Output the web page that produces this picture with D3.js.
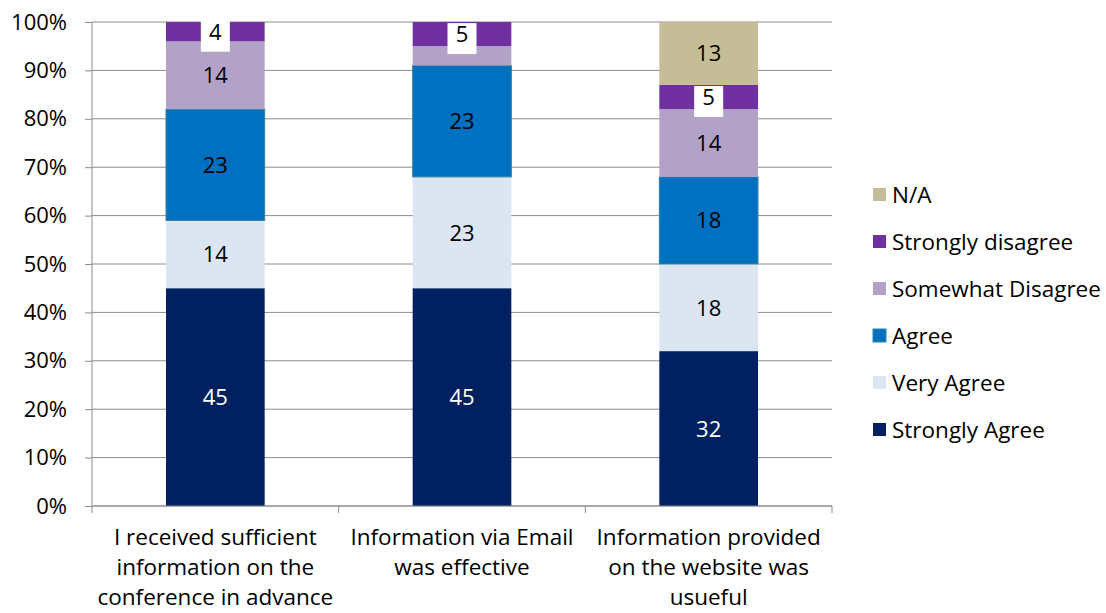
<!DOCTYPE html>
<html>
<head>
<meta charset="utf-8">
<script src="https://cdn.jsdelivr.net/npm/d3@7"></script>
<style>
  body { margin: 0; background: #fff; }
  svg text { font-family: "Open Sans", "Liberation Sans", Arial, sans-serif; }
</style>
</head>
<body>
<svg id="chart" width="1106" height="613"></svg>
<script>
// chart data
var categories = [
  ["I received sufficient", "information on the", "conference in advance"],
  ["Information via Email", "was effective"],
  ["Information provided", "on the website was", "usueful"]
];
var seriesNames = ["Strongly Agree", "Very Agree", "Agree", "Somewhat Disagree", "Strongly disagree", "N/A"];
var stronglyAgree = [45, 45, 32];
var veryAgree = [14, 23, 18];
var agree = [23, 23, 18];
var somewhatDisagree = [14, 4, 14];
var stronglyDisagree = [4, 5, 5];
var notApplicable = [0, 0, 13];
var yTicks = [0, 10, 20, 30, 40, 50, 60, 70, 80, 90, 100];

var colors = ["#002060", "#DCE6F2", "#0070C0", "#B3A2C7", "#7030A0", "#C4BD97"];

var seriesValues = [stronglyAgree, veryAgree, agree, somewhatDisagree, stronglyDisagree, notApplicable];

var svg = d3.select("#chart");
var plotLeft = 92, plotRight = 832, plotTop = 22, plotBottom = 506;

var x = d3.scaleBand().domain([0, 1, 2]).range([plotLeft, plotRight]).paddingInner(0.6).paddingOuter(0.3);
var xOuter = d3.scaleBand().domain([0, 1, 2]).range([plotLeft, plotRight]);
var y = d3.scaleLinear().domain([0, 100]).range([plotBottom, plotTop]);

// gridlines
svg.append("g").selectAll("line").data(yTicks).enter().append("line")
  .attr("x1", plotLeft).attr("x2", plotRight)
  .attr("y1", function(d){ return y(d); }).attr("y2", function(d){ return y(d); })
  .attr("stroke", "#8c8c8c").attr("stroke-width", 1);

// stack
var rows = categories.map(function(c, i){
  var r = {};
  seriesNames.forEach(function(s, k){ r[s] = seriesValues[k][i]; });
  r.idx = i;
  return r;
});
var stacked = d3.stack().keys(seriesNames)(rows);

var layer = svg.append("g").selectAll("g").data(stacked).enter().append("g")
  .attr("fill", function(d, i){ return colors[i]; });

layer.selectAll("rect").data(function(d){ return d; }).enter().append("rect")
  .attr("x", function(d){ return x(d.data.idx); })
  .attr("width", x.bandwidth())
  .attr("y", function(d){ return y(d[1]); })
  .attr("height", function(d){ return y(d[0]) - y(d[1]); })
  .attr("stroke", function(){ return d3.select(this.parentNode).datum().key === "Agree" ? "#31849B" : "none"; })
  .attr("stroke-width", 1);

// labels
var labelG = svg.append("g");
stacked.forEach(function(s, k){
  s.forEach(function(d){
    var v = d[1] - d[0];
    if (v <= 0) return;
    if (v < 5 && s.key !== "Strongly disagree") return;
    var cx = x(d.data.idx) + x.bandwidth() / 2;
    var cy = (y(d[0]) + y(d[1])) / 2;
    if (s.key === "Strongly disagree") {
      labelG.append("rect")
        .attr("x", cx - 14.5).attr("y", cy - 11).attr("width", 29).attr("height", 31)
        .attr("fill", "#fff");
    }
    labelG.append("text")
      .attr("x", cx).attr("y", cy + 8)
      .attr("text-anchor", "middle")
      .attr("font-size", 22)
      .attr("fill", s.key === "Strongly Agree" ? "#fff" : "#000")
      .text(v);
  });
});

// y axis
var yAxis = d3.axisLeft(y).tickValues(yTicks).tickSize(7).tickPadding(18)
  .tickFormat(function(d){ return d + "%"; });
var yg = svg.append("g").attr("transform", "translate(" + plotLeft + ",0)").call(yAxis);
yg.select(".domain").attr("stroke", "#8c8c8c").attr("d", "M0," + plotTop + "V" + plotBottom);
yg.selectAll(".tick line").attr("stroke", "#8c8c8c");
yg.selectAll(".tick text").attr("font-size", 22).attr("fill", "#000")
  .style("font-family", "'Open Sans', 'Liberation Sans', Arial, sans-serif");

// x axis
svg.append("line").attr("x1", plotLeft).attr("x2", plotRight).attr("y1", plotBottom).attr("y2", plotBottom)
  .attr("stroke", "#8c8c8c");
var bounds = [0, 1, 2].map(function(i){ return xOuter(i); }).concat([plotRight]);
svg.append("g").selectAll("line").data(bounds).enter().append("line")
  .attr("x1", function(d){ return d; }).attr("x2", function(d){ return d; })
  .attr("y1", plotBottom).attr("y2", plotBottom + 7).attr("stroke", "#8c8c8c");

var catG = svg.append("g");
categories.forEach(function(lines, i){
  var cx = xOuter(i) + xOuter.bandwidth() / 2;
  var t = catG.append("text").attr("text-anchor", "middle").attr("font-size", 22.5).attr("fill", "#000");
  lines.forEach(function(l, j){
    t.append("tspan").attr("x", cx).attr("y", 545 + j * 30).text(l);
  });
});

// legend
var legendOrder = seriesNames.slice().reverse();
var lg = svg.append("g").attr("transform", "translate(873,195)");
legendOrder.forEach(function(name, i){
  var k = seriesNames.indexOf(name);
  var g = lg.append("g").attr("transform", "translate(0," + (i * 47) + ")");
  g.append("rect").attr("x", 0).attr("y", -7).attr("width", 13).attr("height", 13).attr("fill", colors[k])
    .attr("stroke", name === "Agree" ? "#31849B" : "none");
  g.append("text").attr("x", 19).attr("y", 8).attr("font-size", 22.5).attr("fill", "#000").text(name);
});
</script>
</body>
</html>
